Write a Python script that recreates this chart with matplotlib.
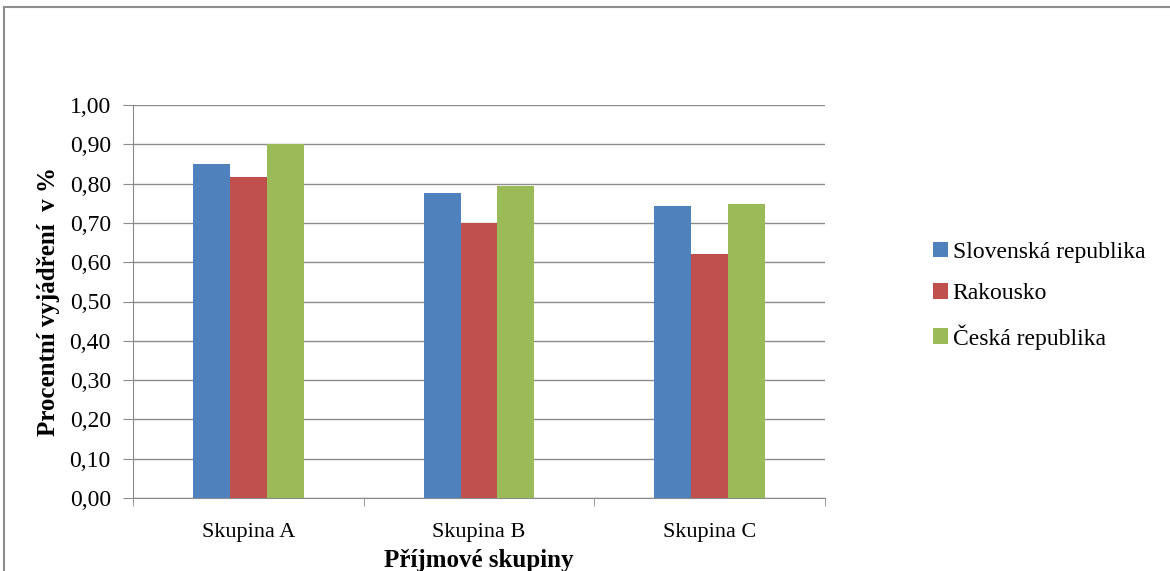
import numpy as np
import matplotlib
matplotlib.use("Agg")
import matplotlib.pyplot as plt
from matplotlib.patches import Rectangle
from matplotlib.ticker import FuncFormatter

plt.rcParams['font.family'] = ['Liberation Serif', 'DejaVu Serif']

# Income groups and the three countries compared
groups = ["Skupina A", "Skupina B", "Skupina C"]
series_names = ["Slovenská republika", "Rakousko", "Česká republika"]
slovensko = [0.85, 0.775, 0.742]
rakousko = [0.817, 0.70, 0.622]
cesko = [0.90, 0.795, 0.749]
colors = ["#4F81BD", "#C0504D", "#9BBB59"]
yticks = np.arange(0, 1.01, 0.1)

fig = plt.figure(figsize=(11.7, 5.71), dpi=100)
ax = fig.add_axes([133 / 1170, 1 - 498 / 571, (825 - 133) / 1170, (498 - 105) / 571])

x = np.arange(len(groups))
w = 0.16
for i, (vals, name) in enumerate(zip([slovensko, rakousko, cesko], series_names)):
    ax.bar(x + (i - 1) * w, vals, width=w, color=colors[i], label=name, zorder=3)

ax.set_xlim(-0.5, len(groups) - 0.5)
ax.set_ylim(0, 1.0)
ax.set_yticks(yticks)
ax.yaxis.set_major_formatter(FuncFormatter(lambda v, p: f"{v:.2f}".replace(".", ",")))
ax.yaxis.grid(True, color="#8c8c8c", linewidth=1.0, zorder=0)

ax.set_xticks(x)
ax.set_xticklabels(groups)
ax.set_xticks(np.arange(-0.5, len(groups), 1.0), minor=True)
ax.tick_params(axis="x", which="major", length=0, pad=18, labelsize=16)
ax.tick_params(axis="x", which="minor", length=6, color="#8c8c8c", direction="out")
ax.tick_params(axis="y", length=7, color="#8c8c8c", pad=9, labelsize=17)

for side in ["top", "right"]:
    ax.spines[side].set_visible(False)
for side in ["left", "bottom"]:
    ax.spines[side].set_color("#8c8c8c")

ax.set_ylabel("Procentní vyjádření  v %", fontsize=18, fontweight="bold", labelpad=7)
ax.set_xlabel("Příjmové skupiny", fontsize=18, fontweight="bold", labelpad=5)

leg = ax.legend(loc="center left", bbox_to_anchor=(1.125, 0.515), frameon=False,
                fontsize=17, handlelength=0.65, handleheight=0.65,
                handletextpad=0.2, labelspacing=0.85)

# outer chart frame
fig.patches.append(Rectangle((4 / 1170, -0.05), 1.2, 1 - 7.5 / 571 + 0.05,
                             transform=fig.transFigure, fill=False,
                             edgecolor="#8c8c8c", linewidth=1.5))

fig.savefig("out.png", dpi=100)
